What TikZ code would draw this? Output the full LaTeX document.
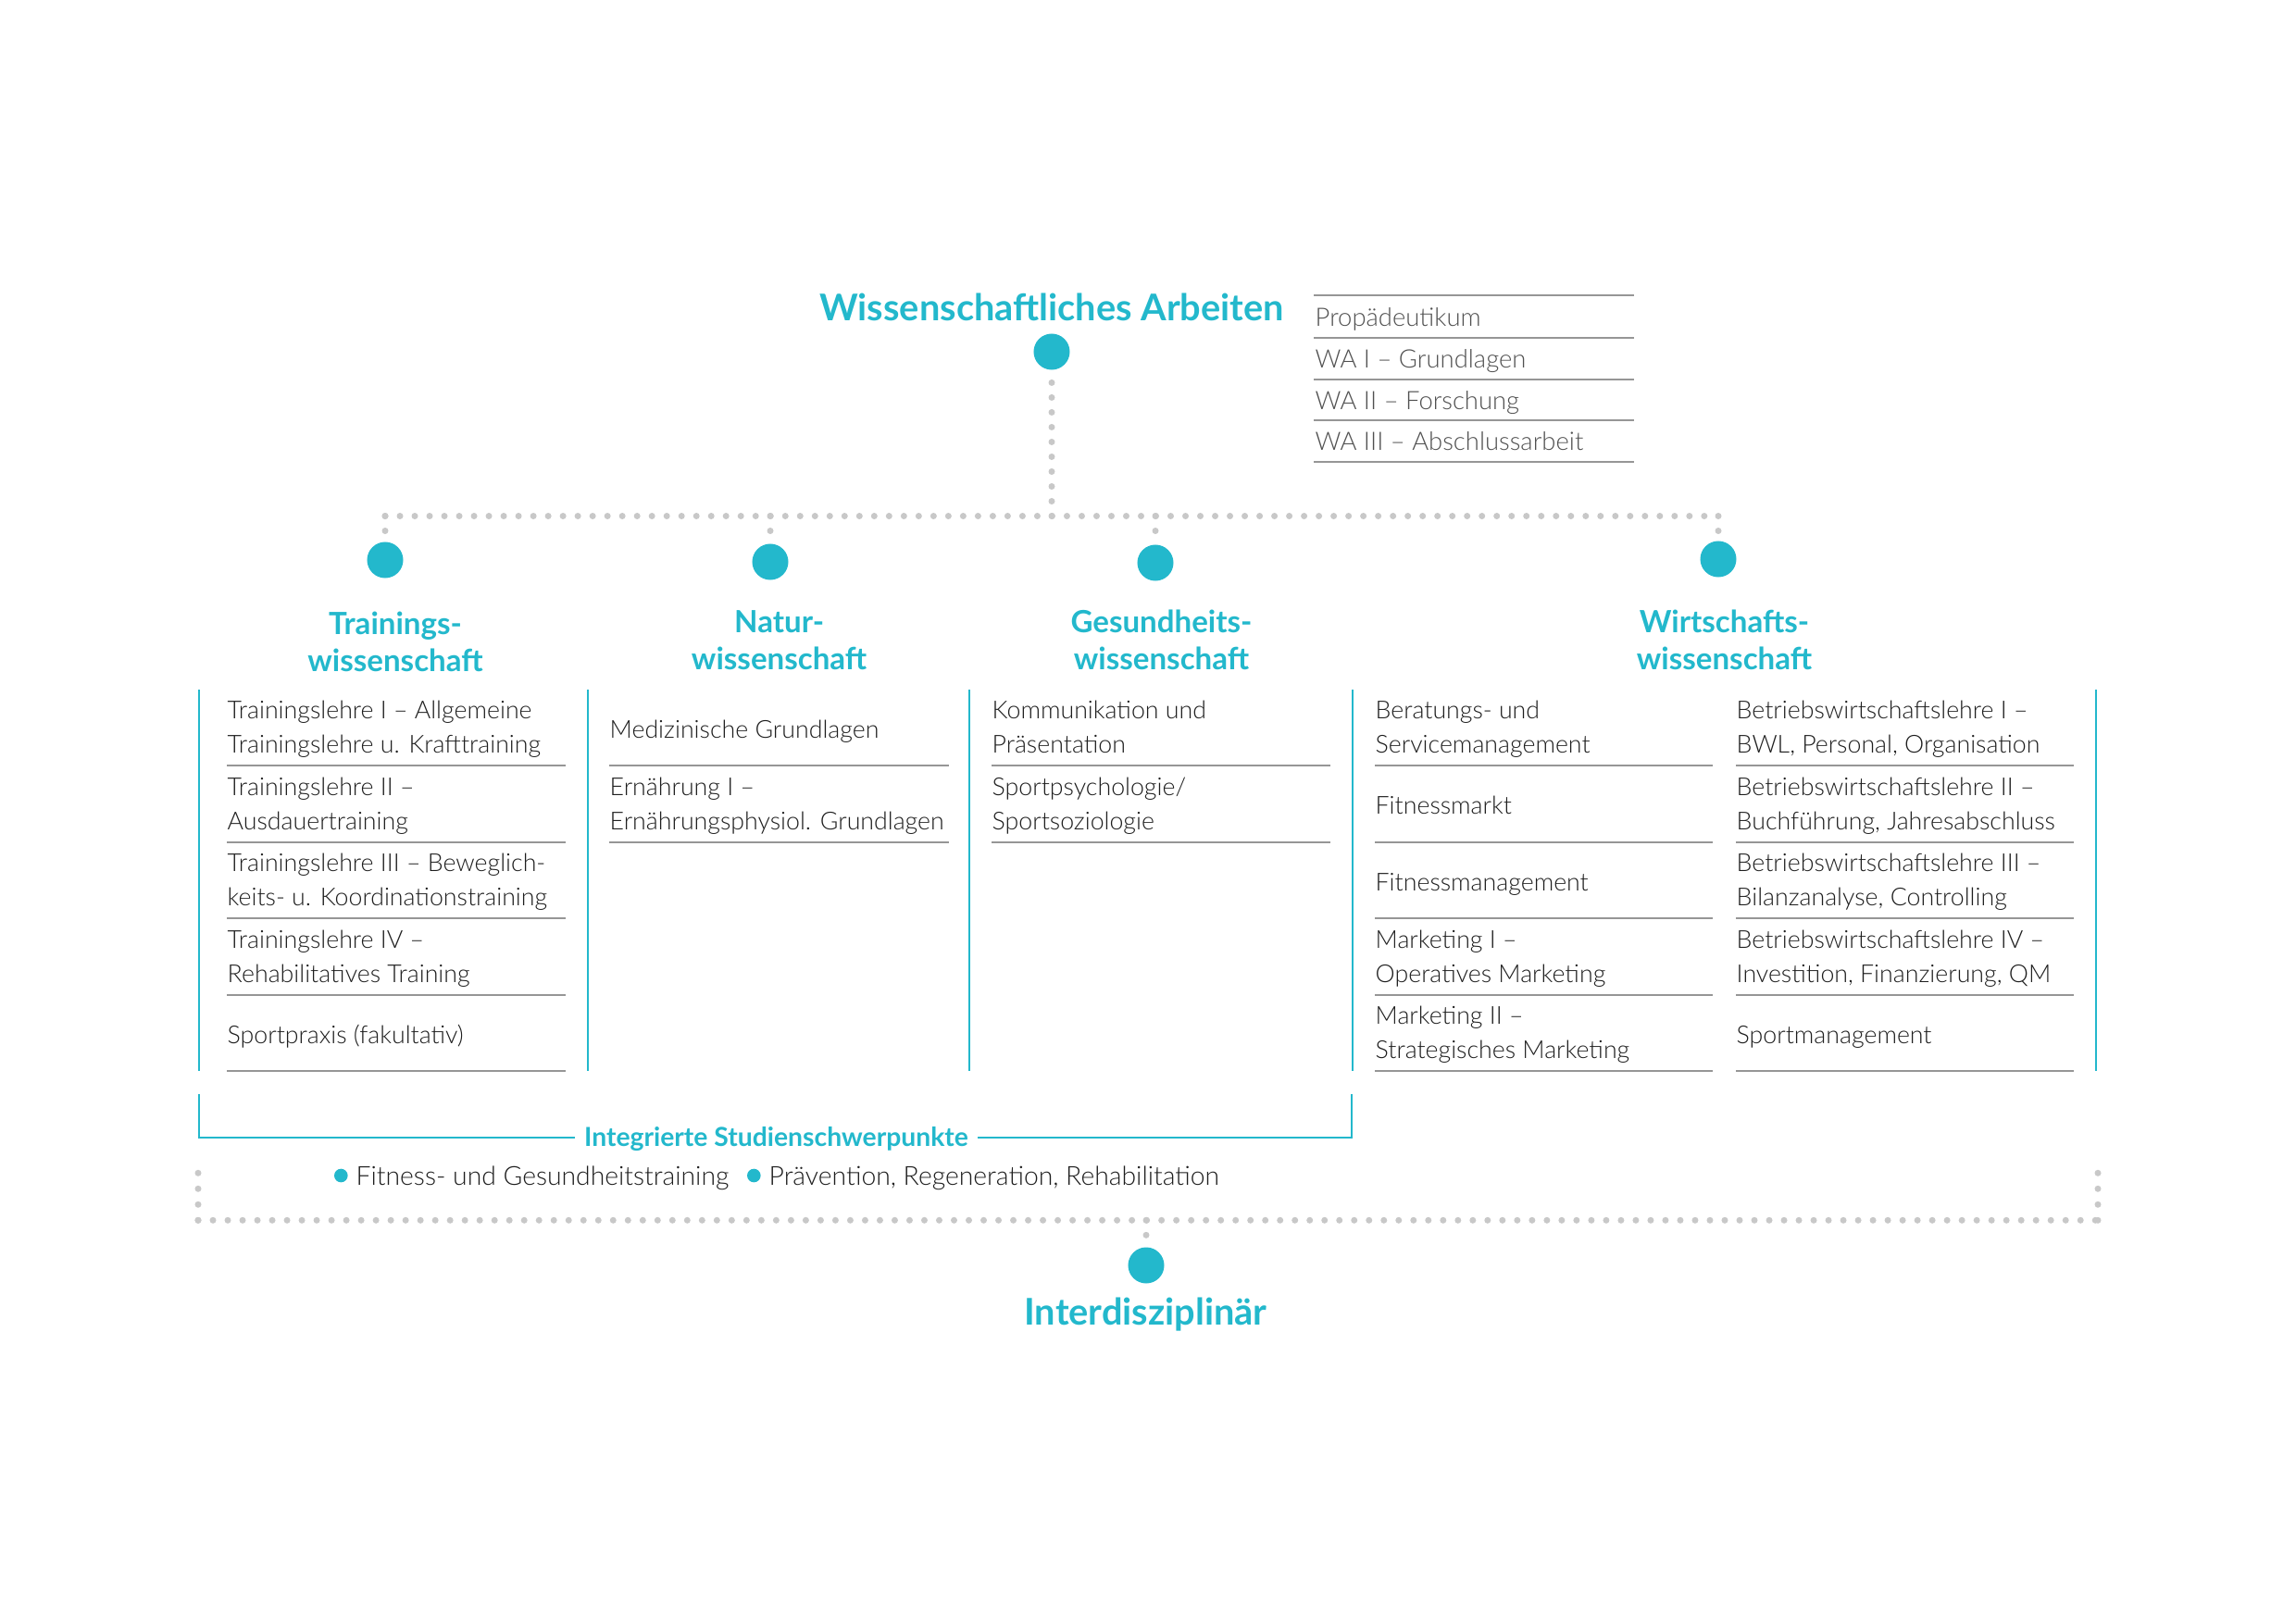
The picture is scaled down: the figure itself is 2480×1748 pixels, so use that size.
\documentclass[tikz,border=0pt]{standalone}
\usepackage{fontspec}
\setmainfont{Lato}
\newfontfamily\lightfont{Lato Light}
\definecolor{accent}{RGB}{35,184,204}
\definecolor{dotgray}{RGB}{200,200,200}
\definecolor{rulegray}{RGB}{150,150,150}
\definecolor{itemgray}{RGB}{30,30,30}
\definecolor{listgray}{RGB}{80,80,80}
\begin{document}
\begin{tikzpicture}[x=0.01cm, y=-0.01cm,
  bigdot/.style={circle, fill=accent, inner sep=0, minimum size=0.39cm},
  smalldot/.style={circle, fill=accent, inner sep=0, minimum size=0.146cm},
  title/.style={font=\fontsize{11.3}{13.5}\selectfont\bfseries, text=accent, inner sep=0},
  heading/.style={font=\fontsize{9.4}{11.5}\selectfont\bfseries, text=accent, align=center, inner sep=0,
    execute at begin node=\strut, execute at end node=\strut},
  course/.style={font=\lightfont\fontsize{7.6}{10.6}\selectfont, text=itemgray, align=left, inner sep=0, anchor=west,
    execute at begin node=\strut, execute at end node=\strut},
  walist/.style={font=\lightfont\fontsize{7.8}{10.6}\selectfont, text=listgray, inner sep=0, anchor=base west},
  note/.style={font=\lightfont\fontsize{8.05}{10.6}\selectfont, text=itemgray, inner sep=0, anchor=base west},
  focus/.style={font=\fontsize{8.05}{9.5}\selectfont\bfseries, text=accent, fill=white, inner xsep=0.1cm, inner ysep=0, anchor=base},
  rule/.style={rulegray, line width=0.02cm},
  bar/.style={accent, line width=0.02cm},
  dotline/.style={dotgray, line width=0.07cm, line cap=round, dash pattern=on 0pt off 0.16cm}]
\useasboundingbox (0,0) rectangle (2480,1748);

\node[title, anchor=base] (wa) at (1136,346.7) {Wissenschaftliches Arbeiten};
\node[bigdot] (wadot) at (1136,380) {};
\node[walist] (wa1) at (1420,352.7) {Propädeutikum};
\node[walist] (wa2) at (1420,397.4) {WA I – Grundlagen};
\node[walist] (wa3) at (1420,442) {WA II – Forschung};
\node[walist] (wa4) at (1420,486.7) {WA III – Abschlussarbeit};
\draw[rule] (1419,319) -- (1765,319) (1419,365) -- (1765,365) (1419,409.7) -- (1765,409.7)
  (1419,454.3) -- (1765,454.3) (1419,499) -- (1765,499);

\coordinate (hubL) at (416,557.5);
\coordinate (hubN) at (832,557.5);
\coordinate (hubW) at (1136,557.5);
\coordinate (hubG) at (1248,557.5);
\coordinate (hubR) at (1856,557.5);
\draw[dotline] (hubL) -- (hubR);
\draw[dotline] (hubW) -- (wadot);

\node[bigdot] (tdot) at (416,605) {};
\node[bigdot] (ndot) at (832,607) {};
\node[bigdot] (gdot) at (1248,608) {};
\node[bigdot] (wdot) at (1856,604) {};
\draw[dotline] (hubL) -- (tdot);
\draw[dotline] (hubN) -- (ndot);
\draw[dotline] (hubG) -- (gdot);
\draw[dotline] (hubR) -- (wdot);

\node[heading] (th) at (427,699.5) {Trainings-\\wissenschaft};
\node[heading] (nh) at (841.6,697.5) {Natur-\\wissenschaft};
\node[heading] (gh) at (1254.5,697.5) {Gesundheits-\\wissenschaft};
\node[heading] (wh) at (1862.5,697.5) {Wirtschafts-\\wissenschaft};

\draw[bar] (215,745) -- (215,1157);
\draw[bar] (634.5,745) -- (634.5,1157);
\draw[bar] (1047,745) -- (1047,1157);
\draw[bar] (1461,745) -- (1461,1157);
\draw[bar] (2264,745) -- (2264,1157);

\node[course] (t1) at (245,791) {Trainingslehre I – Allgemeine\\Trainingslehre u. Krafttraining};
\node[course] (t2) at (245,873.5) {Trainingslehre II –\\Ausdauertraining};
\node[course] (t3) at (245,956) {Trainingslehre III – Beweglich-\\keits- u. Koordinationstraining};
\node[course] (t4) at (245,1038.5) {Trainingslehre IV –\\Rehabilitatives Training};
\node[course] (t5) at (245,1120) {Sportpraxis (fakultativ)};
\draw[rule] (245,827) -- (611,827) (245,909.5) -- (611,909.5) (245,992) -- (611,992)
  (245,1074.5) -- (611,1074.5) (245,1157) -- (611,1157);

\node[course] (n1) at (658,790) {Medizinische Grundlagen};
\node[course] (n2) at (658,873.5) {Ernährung I –\\Ernährungsphysiol. Grundlagen};
\draw[rule] (658,827) -- (1025,827) (658,909.5) -- (1025,909.5);

\node[course] (g1) at (1071,791) {Kommunikation und\\Präsentation};
\node[course] (g2) at (1071,873.5) {Sportpsychologie/\\Sportsoziologie};
\draw[rule] (1071,827) -- (1437,827) (1071,909.5) -- (1437,909.5);

\node[course] (w1) at (1485,791) {Beratungs- und\\Servicemanagement};
\node[course] (w2) at (1485,872.5) {Fitnessmarkt};
\node[course] (w3) at (1485,955) {Fitnessmanagement};
\node[course] (w4) at (1485,1038.5) {Marketing I –\\Operatives Marketing};
\node[course] (w5) at (1485,1121) {Marketing II –\\Strategisches Marketing};
\draw[rule] (1485,827) -- (1850,827) (1485,909.5) -- (1850,909.5) (1485,992) -- (1850,992)
  (1485,1074.5) -- (1850,1074.5) (1485,1157) -- (1850,1157);

\node[course] (b1) at (1875,791) {Betriebswirtschaftslehre I –\\BWL, Personal, Organisation};
\node[course] (b2) at (1875,873.5) {Betriebswirtschaftslehre II –\\Buchführung, Jahresabschluss};
\node[course] (b3) at (1875,956) {Betriebswirtschaftslehre III –\\Bilanzanalyse, Controlling};
\node[course] (b4) at (1875,1038.5) {Betriebswirtschaftslehre IV –\\Investition, Finanzierung, QM};
\node[course] (b5) at (1875,1120) {Sportmanagement};
\draw[rule] (1875,827) -- (2240,827) (1875,909.5) -- (2240,909.5) (1875,992) -- (2240,992)
  (1875,1074.5) -- (2240,1074.5) (1875,1157) -- (2240,1157);

\draw[bar] (215,1182) -- (215,1229.3) -- (1460,1229.3) -- (1460,1182);
\node[focus] (isp) at (838.5,1238.3) {Integrierte Studienschwerpunkte};
\node[smalldot] (fdot) at (368.3,1270) {};
\node[note] (fit) at (384,1280) {Fitness- und Gesundheitstraining};
\node[smalldot] (pdot) at (814.3,1270) {};
\node[note] (prae) at (830,1280) {Prävention, Regeneration, Rehabilitation};

\draw[dotline] (214,1318.3) -- (2266,1318.3);
\draw[dotline, dash pattern=on 0pt off 0.17cm] (214,1318.3) -- (214,1262);
\draw[dotline, dash pattern=on 0pt off 0.17cm] (2266,1318.3) -- (2266,1262);
\coordinate (hubB) at (1238,1318.3);
\node[bigdot] (idot) at (1238,1367) {};
\draw[dotline] (hubB) -- (idot);
\node[title, anchor=base] (inter) at (1237.5,1431.7) {Interdisziplinär};
\end{tikzpicture}
\end{document}
